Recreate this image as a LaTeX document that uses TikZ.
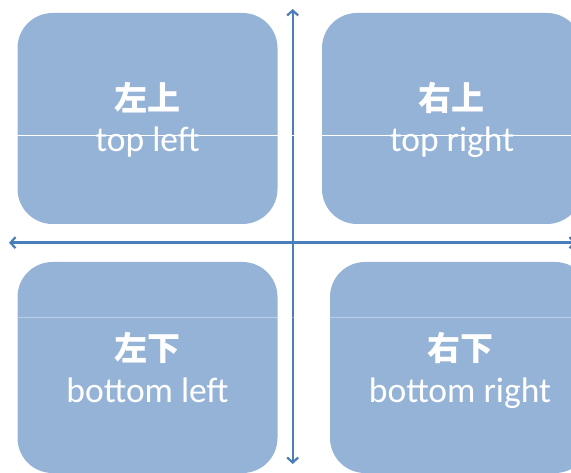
\documentclass[tikz,border=0pt]{standalone}
\usepackage{fontspec}
\setmainfont{Carlito}
\newfontfamily\cjk{Noto Sans CJK SC}
\usetikzlibrary{arrows.meta}
\definecolor{boxblue}{HTML}{95B3D7}
\definecolor{axisblue}{HTML}{4A7EBB}
\begin{document}
\begin{tikzpicture}[x=1pt,y=-1pt,
  quad/.style={fill=boxblue, draw=none, rounded corners=35pt, inner sep=0pt,
    minimum width=260pt, minimum height=211pt},
  cn/.style={text=white, anchor=base, font=\cjk\bfseries\fontsize{33}{33}\selectfont, inner sep=0pt},
  en/.style={text=white, anchor=base, font=\fontsize{35.5}{35.5}\selectfont, inner sep=0pt},
  axis/.style={draw=axisblue, line width=2.4pt,
    {Straight Barb[length=5pt,width=11pt,line width=2.2pt]}-{Straight Barb[length=5pt,width=11pt,line width=2.2pt]}},
  seam/.style={draw=white, line width=1pt}]
\useasboundingbox (0,0) rectangle (571,473);
% boxes
\node[quad] (tl) at (147.5,118.5) {};
\node[quad] (tr) at (452,118.5) {};
\node[quad] (bl) at (147.5,367.5) {};
\node[quad] (br) at (460,367.5) {};
% axes
\coordinate (vtop) at (292.7,9);
\coordinate (vbot) at (292.7,464);
\coordinate (hleft) at (9,242.7);
\coordinate (hright) at (576,242.7);
\draw[axis] (vbot) -- (vtop);
\draw[axis] (hright) -- (hleft);
% seams
\coordinate (s1a) at (0,136);
\coordinate (s1b) at (571,136);
\coordinate (s2a) at (18,318);
\coordinate (s2b) at (571,318);
\draw[seam] (s1a) -- (s1b);
\draw[seam, draw opacity=0.35] (s2a) -- (s2b);
% labels
\node[cn] (tlc) at (147,111) {左上};
\node[en] (tle) at (147.5,151.5) {top left};
\node[cn] (trc) at (451,111) {右上};
\node[en] (tre) at (452,151.5) {top right};
\node[cn] (blc) at (147,361) {左下};
\node[en] (ble) at (147.5,402.3) {bottom left};
\node[cn] (brc) at (460,361) {右下};
\node[en] (bre) at (460,402.3) {bottom right};
\end{tikzpicture}
\end{document}
